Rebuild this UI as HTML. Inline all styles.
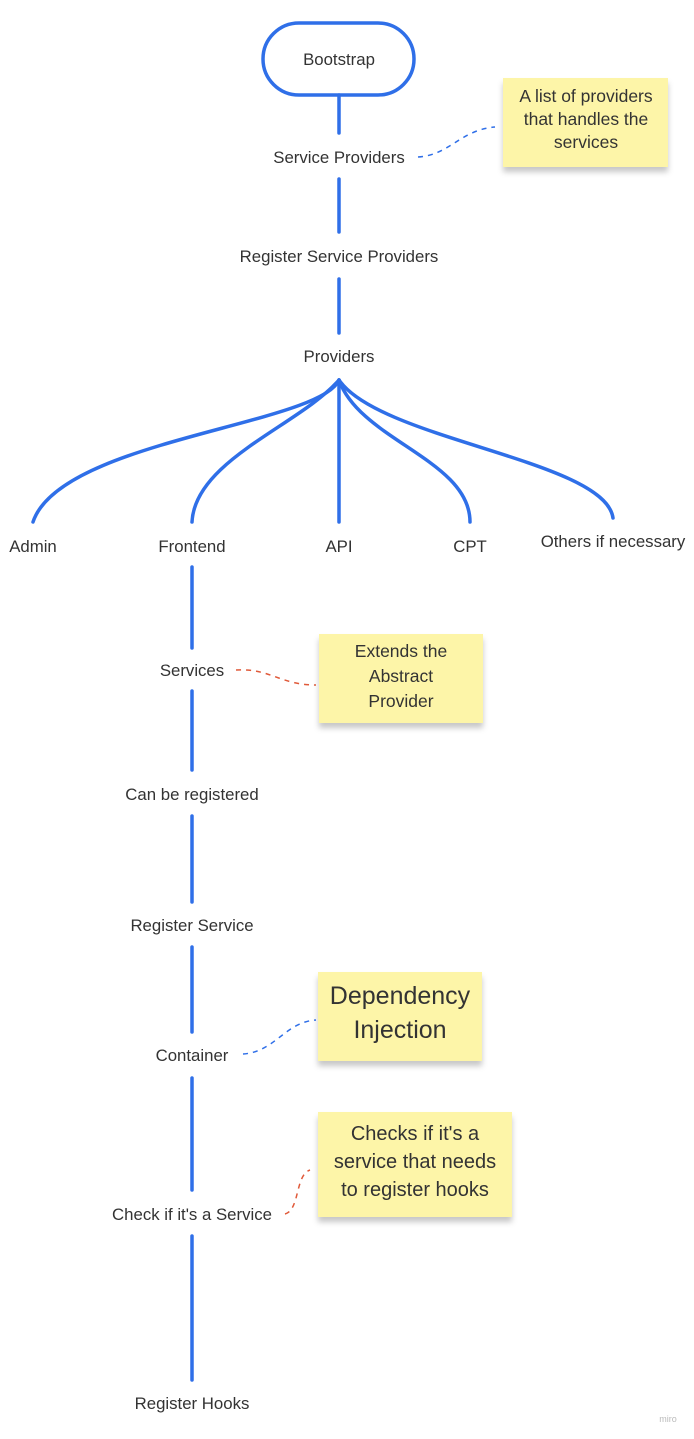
<!DOCTYPE html>
<html><head><meta charset="utf-8"><style>
html,body{margin:0;padding:0;background:#fff;}
svg{display:block;}
text{font-family:"Liberation Sans",sans-serif;fill:#333;}
</style></head><body>
<svg width="694" height="1439" viewBox="0 0 694 1439" xmlns="http://www.w3.org/2000/svg">
<defs>
<filter id="sh" x="-10%" y="-10%" width="120%" height="140%"><feDropShadow dx="0" dy="5" stdDeviation="3" flood-color="#000" flood-opacity="0.22"/></filter>
</defs>
<g fill="none" stroke="#2f6fe8" stroke-width="3.5" stroke-linecap="round">
<rect x="263" y="23" width="151" height="72" rx="36"/>
<line x1="339" y1="95" x2="339" y2="133"/>
<line x1="339" y1="179" x2="339" y2="232"/>
<line x1="339" y1="279" x2="339" y2="333"/>
<path d="M339 380 C320 425 60 440 33 522"/>
<path d="M339 380 C300 425 195 460 192 522"/>
<line x1="339" y1="380" x2="339" y2="522"/>
<path d="M339 380 C360 440 470 460 470 522"/>
<path d="M339 380 C380 440 605 460 613 518"/>
<line x1="192" y1="567" x2="192" y2="648"/>
<line x1="192" y1="691" x2="192" y2="770"/>
<line x1="192" y1="816" x2="192" y2="902"/>
<line x1="192" y1="947" x2="192" y2="1032"/>
<line x1="192" y1="1078" x2="192" y2="1190"/>
<line x1="192" y1="1236" x2="192" y2="1380"/>
</g>
<g fill="none" stroke-width="1.5" stroke-dasharray="5,5">
<path d="M418 157 C450 155 460 130 495 127" stroke="#2f6fe8"/>
<path d="M236 670 C270 668 280 685 316 685" stroke="#e05a3a"/>
<path d="M243 1054 C275 1052 285 1022 316 1020" stroke="#2f6fe8"/>
<path d="M285 1214 C300 1210 295 1175 310 1170" stroke="#e05a3a"/>
</g>
<g filter="url(#sh)" fill="#fdf5a8">
<rect x="503" y="78" width="165" height="89"/>
<rect x="319" y="634" width="164" height="89"/>
<rect x="318" y="972" width="164" height="89"/>
<rect x="318" y="1112" width="194" height="105"/>
</g>
<g font-size="16.8" text-anchor="middle">
<text x="339" y="65">Bootstrap</text>
<text x="339" y="163">Service Providers</text>
<text x="339" y="262">Register Service Providers</text>
<text x="339" y="362">Providers</text>
<text x="33" y="552">Admin</text>
<text x="192" y="552">Frontend</text>
<text x="339" y="552">API</text>
<text x="470" y="552">CPT</text>
<text x="613" y="547">Others if necessary</text>
<text x="192" y="676">Services</text>
<text x="192" y="800">Can be registered</text>
<text x="192" y="931">Register Service</text>
<text x="192" y="1061">Container</text>
<text x="192" y="1220">Check if it's a Service</text>
<text x="192" y="1409">Register Hooks</text>
</g>
<g font-size="17.5" text-anchor="middle">
<text x="586" y="102">A list of providers</text>
<text x="586" y="125">that handles the</text>
<text x="586" y="148">services</text>
<text x="401" y="657">Extends the</text>
<text x="401" y="682">Abstract</text>
<text x="401" y="707">Provider</text>
</g>
<g font-size="25" text-anchor="middle">
<text x="400" y="1004">Dependency</text>
<text x="400" y="1038">Injection</text>
</g>
<g font-size="20" text-anchor="middle">
<text x="415" y="1140">Checks if it's a</text>
<text x="415" y="1168">service that needs</text>
<text x="415" y="1196">to register hooks</text>
</g>
<text x="668" y="1422" font-size="9" text-anchor="middle" style="fill:#bbb">miro</text>
</svg>
</body></html>
